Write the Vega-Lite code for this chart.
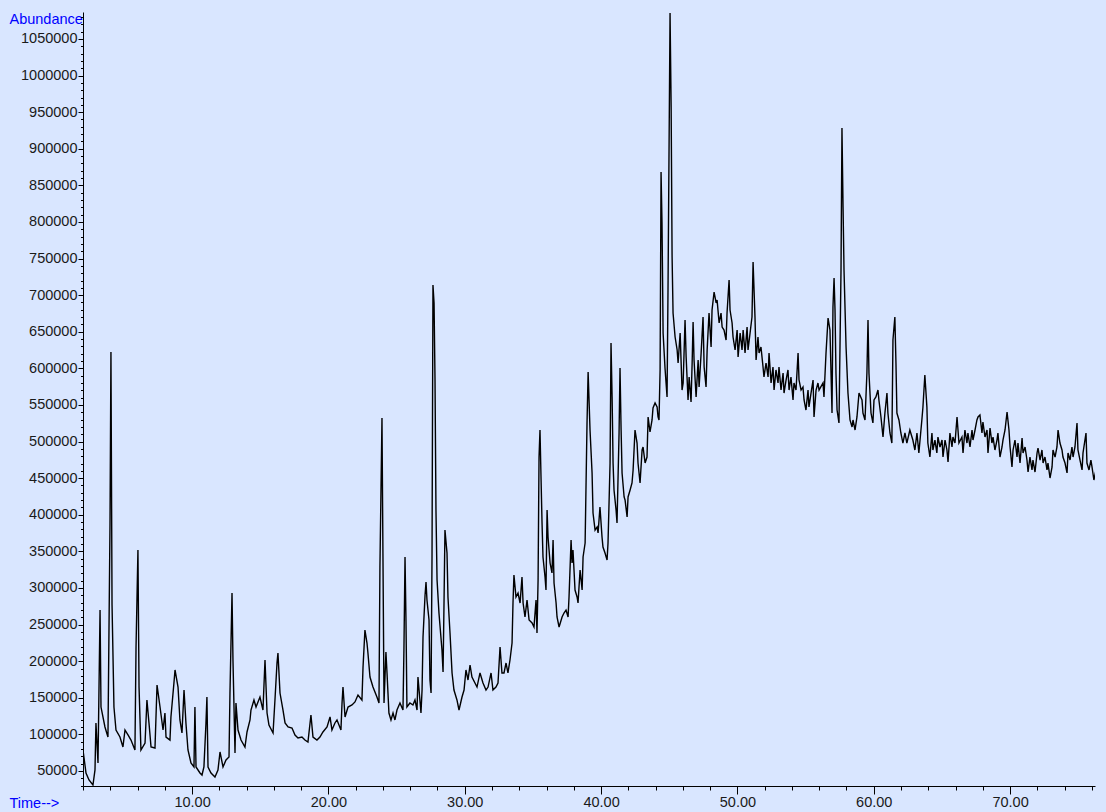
{
"$schema":"https://vega.github.io/schema/vega-lite/v6.json",
"width":1012,"height":774,
"autosize":{"type":"none"},
"padding":{"left":83,"top":12,"right":11,"bottom":26},
"background":"#D9E6FF",
"config":{"view":{"stroke":null},"axis":{"labelFont":"Liberation Sans","titleFont":"Liberation Sans","labelColor":"#1a1a1a","tickColor":"#000","domainColor":"#000","grid":false,"tickWidth":1,"domainWidth":1}},
"data":{"values":[
{"time":2.00,"abundance":78700},{"time":2.22,"abundance":47300},{"time":2.44,"abundance":37700},{"time":2.73,"abundance":30900},{"time":2.88,"abundance":51400},{"time":2.95,"abundance":115600},{"time":3.10,"abundance":60900},{"time":3.25,"abundance":269900},{"time":3.32,"abundance":137400},{"time":3.61,"abundance":110100},{"time":3.83,"abundance":96400},{"time":3.98,"abundance":386000},{"time":4.05,"abundance":622400},{"time":4.13,"abundance":276800},{"time":4.27,"abundance":137400},{"time":4.42,"abundance":106000},{"time":4.71,"abundance":96400},{"time":4.93,"abundance":82800},{"time":5.08,"abundance":106000},{"time":5.30,"abundance":99200},{"time":5.52,"abundance":92300},{"time":5.81,"abundance":78700},{"time":5.89,"abundance":219400},{"time":6.03,"abundance":351900},{"time":6.11,"abundance":164700},{"time":6.25,"abundance":78700},{"time":6.55,"abundance":88200},{"time":6.69,"abundance":147000},{"time":6.84,"abundance":115600},{"time":6.99,"abundance":82800},{"time":7.28,"abundance":81400},{"time":7.43,"abundance":167500},{"time":7.65,"abundance":137400},{"time":7.87,"abundance":106000},{"time":8.01,"abundance":129200},{"time":8.09,"abundance":96400},{"time":8.38,"abundance":92300},{"time":8.45,"abundance":123800},{"time":8.67,"abundance":170200},{"time":8.75,"abundance":188000},{"time":8.97,"abundance":164700},{"time":9.11,"abundance":119700},{"time":9.26,"abundance":101900},{"time":9.41,"abundance":160600},{"time":9.55,"abundance":115600},{"time":9.70,"abundance":78700},{"time":9.92,"abundance":60900},{"time":10.14,"abundance":55500},{"time":10.21,"abundance":137400},{"time":10.29,"abundance":55500},{"time":10.58,"abundance":47300},{"time":10.73,"abundance":44500},{"time":10.87,"abundance":55500},{"time":11.02,"abundance":115600},{"time":11.09,"abundance":151100},{"time":11.17,"abundance":55500},{"time":11.39,"abundance":47300},{"time":11.68,"abundance":41800},{"time":11.90,"abundance":51400},{"time":12.05,"abundance":76000},{"time":12.27,"abundance":55500},{"time":12.49,"abundance":65000},{"time":12.71,"abundance":69100},{"time":12.78,"abundance":156500},{"time":12.93,"abundance":293100},{"time":13.00,"abundance":201600},{"time":13.15,"abundance":74600},{"time":13.22,"abundance":142900},{"time":13.37,"abundance":106000},{"time":13.59,"abundance":92300},{"time":13.88,"abundance":82800},{"time":14.03,"abundance":103300},{"time":14.25,"abundance":119700},{"time":14.32,"abundance":133300},{"time":14.54,"abundance":147000},{"time":14.69,"abundance":137400},{"time":14.98,"abundance":151100},{"time":15.20,"abundance":133300},{"time":15.35,"abundance":201600},{"time":15.50,"abundance":129200},{"time":15.64,"abundance":112800},{"time":15.94,"abundance":101900},{"time":16.08,"abundance":147000},{"time":16.23,"abundance":197500},{"time":16.30,"abundance":211200},{"time":16.45,"abundance":156500},{"time":16.67,"abundance":133300},{"time":16.82,"abundance":115600},{"time":17.04,"abundance":110100},{"time":17.33,"abundance":108700},{"time":17.55,"abundance":99200},{"time":17.77,"abundance":95100},{"time":18.06,"abundance":96400},{"time":18.28,"abundance":92300},{"time":18.50,"abundance":89600},{"time":18.72,"abundance":126500},{"time":18.87,"abundance":96400},{"time":19.16,"abundance":92300},{"time":19.38,"abundance":96400},{"time":19.60,"abundance":103300},{"time":19.90,"abundance":110100},{"time":20.12,"abundance":123800},{"time":20.26,"abundance":106000},{"time":20.48,"abundance":115600},{"time":20.63,"abundance":119700},{"time":20.92,"abundance":106000},{"time":21.00,"abundance":142900},{"time":21.07,"abundance":164700},{"time":21.22,"abundance":123800},{"time":21.44,"abundance":137400},{"time":21.73,"abundance":140200},{"time":21.95,"abundance":144300},{"time":22.17,"abundance":153800},{"time":22.46,"abundance":147000},{"time":22.54,"abundance":192100},{"time":22.68,"abundance":242600},{"time":22.83,"abundance":224800},{"time":22.90,"abundance":211200},{"time":23.05,"abundance":178400},{"time":23.27,"abundance":164700},{"time":23.56,"abundance":151100},{"time":23.71,"abundance":142900},{"time":23.78,"abundance":328700},{"time":23.93,"abundance":532200},{"time":24.00,"abundance":347800},{"time":24.08,"abundance":142900},{"time":24.22,"abundance":212600},{"time":24.30,"abundance":183900},{"time":24.44,"abundance":129200},{"time":24.59,"abundance":119700},{"time":24.74,"abundance":129200},{"time":24.88,"abundance":119700},{"time":25.03,"abundance":133300},{"time":25.25,"abundance":142900},{"time":25.47,"abundance":133300},{"time":25.54,"abundance":215300},{"time":25.62,"abundance":342300},{"time":25.69,"abundance":256300},{"time":25.76,"abundance":137400},{"time":25.98,"abundance":142900},{"time":26.20,"abundance":140200},{"time":26.35,"abundance":147000},{"time":26.50,"abundance":133300},{"time":26.57,"abundance":178400},{"time":26.65,"abundance":160600},{"time":26.79,"abundance":129200},{"time":26.87,"abundance":160600},{"time":26.94,"abundance":233000},{"time":27.09,"abundance":290400},{"time":27.16,"abundance":308200},{"time":27.23,"abundance":283600},{"time":27.38,"abundance":256300},{"time":27.45,"abundance":174300},{"time":27.53,"abundance":156500},{"time":27.60,"abundance":342300},{"time":27.67,"abundance":713900},{"time":27.75,"abundance":689300},{"time":27.82,"abundance":584100},{"time":27.89,"abundance":406500},{"time":27.97,"abundance":310900},{"time":28.11,"abundance":265800},{"time":28.33,"abundance":215300},{"time":28.41,"abundance":185200},{"time":28.48,"abundance":279500},{"time":28.55,"abundance":379200},{"time":28.70,"abundance":347800},{"time":28.77,"abundance":287700},{"time":28.92,"abundance":238500},{"time":29.07,"abundance":183900},{"time":29.21,"abundance":160600},{"time":29.43,"abundance":147000},{"time":29.58,"abundance":133300},{"time":29.80,"abundance":151100},{"time":29.95,"abundance":160600},{"time":30.09,"abundance":188000},{"time":30.24,"abundance":174300},{"time":30.39,"abundance":194800},{"time":30.53,"abundance":178400},{"time":30.75,"abundance":170200},{"time":30.90,"abundance":164700},{"time":31.12,"abundance":183900},{"time":31.34,"abundance":170200},{"time":31.56,"abundance":160600},{"time":31.71,"abundance":164700},{"time":31.93,"abundance":183900},{"time":32.07,"abundance":160600},{"time":32.29,"abundance":164700},{"time":32.44,"abundance":170200},{"time":32.59,"abundance":219400},{"time":32.73,"abundance":183900},{"time":32.88,"abundance":183900},{"time":33.03,"abundance":197500},{"time":33.17,"abundance":183900},{"time":33.32,"abundance":201600},{"time":33.47,"abundance":224800},{"time":33.54,"abundance":279500},{"time":33.61,"abundance":317700},{"time":33.76,"abundance":287700},{"time":33.91,"abundance":293100},{"time":34.06,"abundance":279500},{"time":34.20,"abundance":315000},{"time":34.28,"abundance":279500},{"time":34.42,"abundance":260400},{"time":34.57,"abundance":283600},{"time":34.72,"abundance":256300},{"time":34.94,"abundance":252200},{"time":35.08,"abundance":246700},{"time":35.23,"abundance":283600},{"time":35.30,"abundance":238500},{"time":35.38,"abundance":310900},{"time":35.45,"abundance":478900},{"time":35.52,"abundance":515800},{"time":35.60,"abundance":447500},{"time":35.67,"abundance":388800},{"time":35.74,"abundance":342300},{"time":35.89,"abundance":315000},{"time":35.96,"abundance":297200},{"time":36.04,"abundance":406500},{"time":36.11,"abundance":369600},{"time":36.26,"abundance":334100},{"time":36.40,"abundance":320500},{"time":36.48,"abundance":365500},{"time":36.55,"abundance":306800},{"time":36.70,"abundance":279500},{"time":36.77,"abundance":260400},{"time":36.92,"abundance":246700},{"time":37.14,"abundance":260400},{"time":37.28,"abundance":265800},{"time":37.43,"abundance":269900},{"time":37.58,"abundance":260400},{"time":37.65,"abundance":287700},{"time":37.80,"abundance":365500},{"time":37.87,"abundance":334100},{"time":37.94,"abundance":351900},{"time":38.09,"abundance":297200},{"time":38.24,"abundance":287700},{"time":38.31,"abundance":279500},{"time":38.46,"abundance":324600},{"time":38.61,"abundance":297200},{"time":38.68,"abundance":342300},{"time":38.83,"abundance":361400},{"time":38.97,"abundance":525400},{"time":39.05,"abundance":595000},{"time":39.19,"abundance":515800},{"time":39.34,"abundance":457100},{"time":39.41,"abundance":402400},{"time":39.56,"abundance":379200},{"time":39.71,"abundance":383300},{"time":39.78,"abundance":375100},{"time":39.92,"abundance":410600},{"time":40.07,"abundance":369600},{"time":40.14,"abundance":356000},{"time":40.29,"abundance":347800},{"time":40.44,"abundance":338200},{"time":40.51,"abundance":361400},{"time":40.66,"abundance":470700},{"time":40.73,"abundance":634600},{"time":40.81,"abundance":560900},{"time":40.88,"abundance":470700},{"time":40.95,"abundance":433800},{"time":41.10,"abundance":406500},{"time":41.17,"abundance":388800},{"time":41.32,"abundance":511700},{"time":41.39,"abundance":600500},{"time":41.47,"abundance":515800},{"time":41.54,"abundance":457100},{"time":41.69,"abundance":424300},{"time":41.76,"abundance":420200},{"time":41.91,"abundance":397000},{"time":41.98,"abundance":424300},{"time":42.13,"abundance":433800},{"time":42.27,"abundance":443400},{"time":42.35,"abundance":461200},{"time":42.49,"abundance":515800},{"time":42.64,"abundance":498000},{"time":42.71,"abundance":470700},{"time":42.86,"abundance":443400},{"time":43.01,"abundance":488500},{"time":43.08,"abundance":492600},{"time":43.23,"abundance":470700},{"time":43.37,"abundance":478900},{"time":43.45,"abundance":533600},{"time":43.59,"abundance":513100},{"time":43.74,"abundance":529500},{"time":43.81,"abundance":545900},{"time":43.96,"abundance":552700},{"time":44.11,"abundance":547200},{"time":44.18,"abundance":533600},{"time":44.25,"abundance":529500},{"time":44.33,"abundance":597800},{"time":44.40,"abundance":868200},{"time":44.47,"abundance":798600},{"time":44.55,"abundance":648300},{"time":44.69,"abundance":600500},{"time":44.84,"abundance":560900},{"time":44.91,"abundance":707000},{"time":45.06,"abundance":1085400},{"time":45.14,"abundance":957000},{"time":45.21,"abundance":752100},{"time":45.28,"abundance":675600},{"time":45.43,"abundance":642800},{"time":45.58,"abundance":625100},{"time":45.65,"abundance":607300},{"time":45.80,"abundance":648300},{"time":45.94,"abundance":570400},{"time":46.02,"abundance":580000},{"time":46.16,"abundance":666100},{"time":46.24,"abundance":615500},{"time":46.38,"abundance":556800},{"time":46.46,"abundance":588200},{"time":46.60,"abundance":554100},{"time":46.68,"abundance":607300},{"time":46.75,"abundance":663300},{"time":46.82,"abundance":611400},{"time":46.97,"abundance":560900},{"time":47.12,"abundance":611400},{"time":47.19,"abundance":574500},{"time":47.34,"abundance":621000},{"time":47.48,"abundance":670200},{"time":47.56,"abundance":601900},{"time":47.70,"abundance":574500},{"time":47.78,"abundance":625100},{"time":47.92,"abundance":675600},{"time":48.07,"abundance":629200},{"time":48.14,"abundance":679700},{"time":48.29,"abundance":704300},{"time":48.44,"abundance":689300},{"time":48.51,"abundance":693400},{"time":48.66,"abundance":662000},{"time":48.80,"abundance":675600},{"time":48.88,"abundance":656500},{"time":49.02,"abundance":652400},{"time":49.17,"abundance":638700},{"time":49.24,"abundance":675600},{"time":49.39,"abundance":720700},{"time":49.46,"abundance":679700},{"time":49.61,"abundance":662000},{"time":49.68,"abundance":642800},{"time":49.83,"abundance":625100},{"time":49.98,"abundance":652400},{"time":50.05,"abundance":615500},{"time":50.20,"abundance":648300},{"time":50.34,"abundance":625100},{"time":50.42,"abundance":652400},{"time":50.56,"abundance":621000},{"time":50.71,"abundance":656500},{"time":50.78,"abundance":625100},{"time":50.93,"abundance":648300},{"time":51.07,"abundance":670200},{"time":51.15,"abundance":745300},{"time":51.29,"abundance":670200},{"time":51.37,"abundance":611400},{"time":51.51,"abundance":642800},{"time":51.59,"abundance":621000},{"time":51.73,"abundance":629200},{"time":51.88,"abundance":601900},{"time":51.95,"abundance":588200},{"time":52.10,"abundance":607300},{"time":52.25,"abundance":588200},{"time":52.32,"abundance":621000},{"time":52.47,"abundance":580000},{"time":52.61,"abundance":601900},{"time":52.69,"abundance":570400},{"time":52.83,"abundance":597800},{"time":52.98,"abundance":580000},{"time":53.05,"abundance":601900},{"time":53.20,"abundance":570400},{"time":53.35,"abundance":593700},{"time":53.42,"abundance":566300},{"time":53.57,"abundance":584100},{"time":53.71,"abundance":597800},{"time":53.79,"abundance":570400},{"time":53.93,"abundance":588200},{"time":54.08,"abundance":556800},{"time":54.15,"abundance":580000},{"time":54.30,"abundance":570400},{"time":54.45,"abundance":621000},{"time":54.52,"abundance":584100},{"time":54.67,"abundance":570400},{"time":54.81,"abundance":574500},{"time":54.89,"abundance":556800},{"time":55.03,"abundance":543100},{"time":55.18,"abundance":570400},{"time":55.25,"abundance":547200},{"time":55.40,"abundance":566300},{"time":55.55,"abundance":584100},{"time":55.62,"abundance":533600},{"time":55.77,"abundance":570400},{"time":55.91,"abundance":580000},{"time":55.99,"abundance":570400},{"time":56.28,"abundance":580000},{"time":56.35,"abundance":560900},{"time":56.50,"abundance":621000},{"time":56.65,"abundance":668800},{"time":56.79,"abundance":652400},{"time":56.94,"abundance":539000},{"time":57.01,"abundance":683800},{"time":57.09,"abundance":723400},{"time":57.16,"abundance":679700},{"time":57.23,"abundance":593700},{"time":57.31,"abundance":543100},{"time":57.45,"abundance":525400},{"time":57.60,"abundance":734400},{"time":57.67,"abundance":928300},{"time":57.75,"abundance":820400},{"time":57.82,"abundance":734400},{"time":57.97,"abundance":629200},{"time":58.04,"abundance":597800},{"time":58.11,"abundance":566300},{"time":58.26,"abundance":529500},{"time":58.41,"abundance":519900},{"time":58.48,"abundance":529500},{"time":58.63,"abundance":515800},{"time":58.77,"abundance":533600},{"time":58.92,"abundance":566300},{"time":59.14,"abundance":556800},{"time":59.21,"abundance":539000},{"time":59.36,"abundance":529500},{"time":59.50,"abundance":593700},{"time":59.58,"abundance":666100},{"time":59.65,"abundance":593700},{"time":59.80,"abundance":539000},{"time":59.94,"abundance":525400},{"time":60.02,"abundance":556800},{"time":60.16,"abundance":560900},{"time":60.31,"abundance":570400},{"time":60.38,"abundance":556800},{"time":60.53,"abundance":533600},{"time":60.68,"abundance":506200},{"time":60.82,"abundance":539000},{"time":60.97,"abundance":566300},{"time":61.04,"abundance":539000},{"time":61.19,"abundance":511700},{"time":61.33,"abundance":498000},{"time":61.41,"abundance":638700},{"time":61.55,"abundance":670200},{"time":61.63,"abundance":607300},{"time":61.70,"abundance":539000},{"time":61.85,"abundance":529500},{"time":61.99,"abundance":511700},{"time":62.14,"abundance":498000},{"time":62.29,"abundance":511700},{"time":62.43,"abundance":498000},{"time":62.65,"abundance":515800},{"time":62.87,"abundance":502100},{"time":63.02,"abundance":488500},{"time":63.17,"abundance":511700},{"time":63.31,"abundance":484400},{"time":63.53,"abundance":529500},{"time":63.61,"abundance":547200},{"time":63.75,"abundance":590900},{"time":63.90,"abundance":547200},{"time":63.97,"abundance":498000},{"time":64.12,"abundance":478900},{"time":64.27,"abundance":511700},{"time":64.34,"abundance":488500},{"time":64.49,"abundance":502100},{"time":64.63,"abundance":484400},{"time":64.71,"abundance":506200},
{"time":64.86,"abundance":492600},{"time":65.01,"abundance":502100},{"time":65.08,"abundance":478900},{"time":65.23,"abundance":502100},{"time":65.37,"abundance":488500},{"time":65.45,"abundance":472100},{"time":65.59,"abundance":511700},{"time":65.74,"abundance":492600},{"time":65.81,"abundance":506200},{"time":65.96,"abundance":498000},{"time":66.11,"abundance":533600},{"time":66.25,"abundance":498000},{"time":66.47,"abundance":506200},{"time":66.55,"abundance":484400},{"time":66.69,"abundance":515800},{"time":66.84,"abundance":498000},{"time":66.91,"abundance":511700},{"time":67.06,"abundance":492600},{"time":67.21,"abundance":515800},{"time":67.28,"abundance":502100},{"time":67.43,"abundance":515800},{"time":67.57,"abundance":529500},{"time":67.65,"abundance":533600},{"time":67.79,"abundance":536300},{"time":67.94,"abundance":511700},{"time":68.01,"abundance":526700},{"time":68.16,"abundance":506200},{"time":68.31,"abundance":515800},{"time":68.38,"abundance":484400},{"time":68.53,"abundance":518500},{"time":68.67,"abundance":498000},{"time":68.75,"abundance":506200},{"time":68.89,"abundance":488500},{"time":69.04,"abundance":502100},{"time":69.11,"abundance":511700},{"time":69.26,"abundance":478900},{"time":69.41,"abundance":492600},{"time":69.48,"abundance":502100},{"time":69.63,"abundance":515800},{"time":69.78,"abundance":540400},{"time":69.92,"abundance":515800},{"time":70.00,"abundance":492600},{"time":70.14,"abundance":465300},{"time":70.22,"abundance":488500},{"time":70.36,"abundance":502100},{"time":70.51,"abundance":478900},{"time":70.58,"abundance":498000},{"time":70.73,"abundance":470700},{"time":70.88,"abundance":504900},{"time":70.95,"abundance":484400},{"time":71.10,"abundance":492600},{"time":71.24,"abundance":474800},{"time":71.32,"abundance":458400},{"time":71.46,"abundance":478900},{"time":71.61,"abundance":461200},{"time":71.68,"abundance":474800},{"time":71.83,"abundance":458400},{"time":71.98,"abundance":484400},{"time":72.05,"abundance":491200},{"time":72.20,"abundance":474800},{"time":72.34,"abundance":488500},{"time":72.42,"abundance":470700},{"time":72.56,"abundance":478900},{"time":72.71,"abundance":461200},{"time":72.78,"abundance":470700},{"time":72.93,"abundance":450200},{"time":73.08,"abundance":465300},{"time":73.15,"abundance":488500},{"time":73.30,"abundance":478900},{"time":73.44,"abundance":492600},{"time":73.52,"abundance":515800},{"time":73.66,"abundance":498000},{"time":73.81,"abundance":488500},{"time":73.88,"abundance":478900},{"time":74.03,"abundance":470700},{"time":74.18,"abundance":457100},{"time":74.25,"abundance":484400},{"time":74.40,"abundance":474800},{"time":74.54,"abundance":492600},{"time":74.62,"abundance":478900},{"time":74.76,"abundance":492600},{"time":74.91,"abundance":525400},{"time":74.98,"abundance":488500},{"time":75.13,"abundance":474800},{"time":75.28,"abundance":461200},{"time":75.35,"abundance":484400},{"time":75.57,"abundance":511700},{"time":75.64,"abundance":470700},{"time":75.79,"abundance":461200},{"time":75.93,"abundance":474800},{"time":76.01,"abundance":465300},{"time":76.15,"abundance":447500},{"time":76.30,"abundance":461200}
]},
"layer":[
{"mark":{"type":"line","color":"#000000","strokeWidth":1.4,"clip":true},
 "encoding":{
  "x":{"field":"time","type":"quantitative","scale":{"domain":[2.0,76.23],"nice":false,"zero":false},
   "axis":{"orient":"bottom","values":[10,20,30,40,50,60,70],"format":".2f","tickSize":8,"labelFontSize":14.5,"labelPadding":1,"labelFlush":false,"labelOverlap":false,
    "title":"Time-->","titleColor":"#0000FF","titleFontSize":14.5,"titleFontWeight":"normal","titleAlign":"left","titleBaseline":"middle","titleX":-74,"titleY":17}},
  "y":{"field":"abundance","type":"quantitative","scale":{"domain":[29500,1086800],"nice":false,"zero":false},
   "axis":{"orient":"left","values":[50000,100000,150000,200000,250000,300000,350000,400000,450000,500000,550000,600000,650000,700000,750000,800000,850000,900000,950000,1000000,1050000],"format":"d","tickSize":5,"labelFontSize":14.5,"labelPadding":1,"labelFlush":false,"labelOverlap":false,
    "title":"Abundance","titleColor":"#0000FF","titleFontSize":14.5,"titleFontWeight":"normal","titleAngle":0,"titleAlign":"left","titleBaseline":"middle","titleX":-74,"titleY":7}}
 }},
{"mark":{"type":"point","opacity":0},
 "encoding":{
  "x":{"field":"time","type":"quantitative","scale":{"domain":[2.0,76.23],"nice":false,"zero":false},
   "axis":{"orient":"bottom","values":[2,4,6,8,12,14,16,18,22,24,26,28,32,34,36,38,42,44,46,48,52,54,56,58,62,64,66,68,72,74,76],"tickSize":4,"labels":false,"domain":false,"title":null}},
  "y":{"field":"abundance","type":"quantitative","scale":{"domain":[29500,1086800],"nice":false,"zero":false},
   "axis":{"orient":"left","values":[30000,40000,60000,70000,80000,90000,110000,120000,130000,140000,160000,170000,180000,190000,210000,220000,230000,240000,260000,270000,280000,290000,310000,320000,330000,340000,360000,370000,380000,390000,410000,420000,430000,440000,460000,470000,480000,490000,510000,520000,530000,540000,560000,570000,580000,590000,610000,620000,630000,640000,660000,670000,680000,690000,710000,720000,730000,740000,760000,770000,780000,790000,810000,820000,830000,840000,860000,870000,880000,890000,910000,920000,930000,940000,960000,970000,980000,990000,1010000,1020000,1030000,1040000,1060000,1070000,1080000],"tickSize":2.5,"labels":false,"domain":false,"title":null}}
 }}
],
"resolve":{"axis":{"x":"independent","y":"independent"}}
}
